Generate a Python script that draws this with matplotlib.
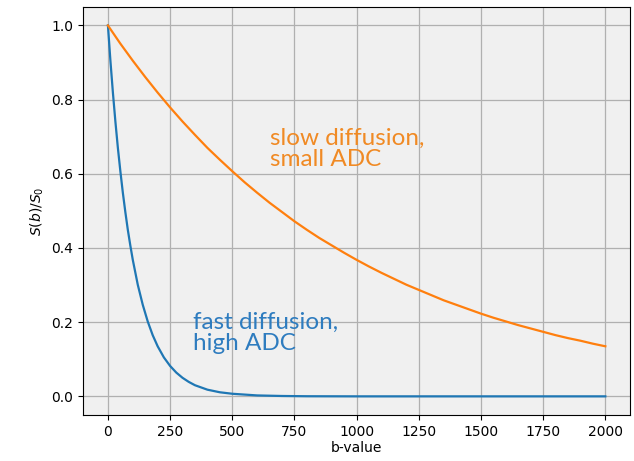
import matplotlib.pyplot as plt

# b-values and signal readings
b_fast = [0, 10, 20, 30, 40, 50, 60, 70, 80, 90, 100, 120, 140, 160, 180, 200,
          225, 250, 275, 300, 325, 350, 375, 400, 450, 500, 600, 700, 800, 1000,
          1500, 2000]
s_fast = [1.0, 0.905, 0.819, 0.741, 0.670, 0.607, 0.549, 0.497, 0.449, 0.407,
          0.368, 0.301, 0.247, 0.202, 0.165, 0.135, 0.105, 0.082, 0.064, 0.050,
          0.039, 0.030, 0.024, 0.018, 0.011, 0.007, 0.0025, 0.001, 0.0003, 0.0,
          0.0, 0.0]

b_slow = [0, 50, 100, 150, 200, 250, 300, 350, 400, 450, 500, 550, 600, 650,
          700, 750, 800, 850, 900, 950, 1000, 1050, 1100, 1150, 1200, 1250,
          1300, 1350, 1400, 1450, 1500, 1550, 1600, 1650, 1700, 1750, 1800,
          1850, 1900, 1950, 2000]
s_slow = [1.0, 0.951, 0.905, 0.861, 0.819, 0.779, 0.741, 0.705, 0.670, 0.638,
          0.607, 0.577, 0.549, 0.522, 0.497, 0.472, 0.449, 0.427, 0.407, 0.387,
          0.368, 0.350, 0.333, 0.317, 0.301, 0.287, 0.273, 0.259, 0.247, 0.235,
          0.223, 0.212, 0.202, 0.192, 0.183, 0.174, 0.165, 0.157, 0.150, 0.142,
          0.135]

fig = plt.figure(figsize=(6.34, 4.61), dpi=100)
ax = fig.add_axes([0.131, 0.100, 0.863, 0.885])
ax.set_facecolor("#f0f0f0")

ax.plot(b_fast, s_fast, color="tab:blue", lw=1.6)
ax.plot(b_slow, s_slow, color="tab:orange", lw=1.6)

ax.grid(True, color="#b0b0b0", lw=0.9)
ax.set_axisbelow(True)
ax.set_xlim(-100, 2100)
ax.set_ylim(-0.05, 1.05)
ax.set_xticks(range(0, 2001, 250))
ax.set_yticks([0.0, 0.2, 0.4, 0.6, 0.8, 1.0])
ax.set_xlabel("b-value", labelpad=2)
ax.set_ylabel("$S(b)/S_0$")

ax.text(650, 0.725, "slow diffusion,\nsmall ADC", color="#f08a24", fontsize=17.5,
        family="Lato", linespacing=1.02, va="top")
ax.text(343, 0.228, "fast diffusion,\nhigh ADC", color="#2e7cbf", fontsize=17.5,
        family="Lato", linespacing=1.02, va="top")

fig.savefig("out.png")
